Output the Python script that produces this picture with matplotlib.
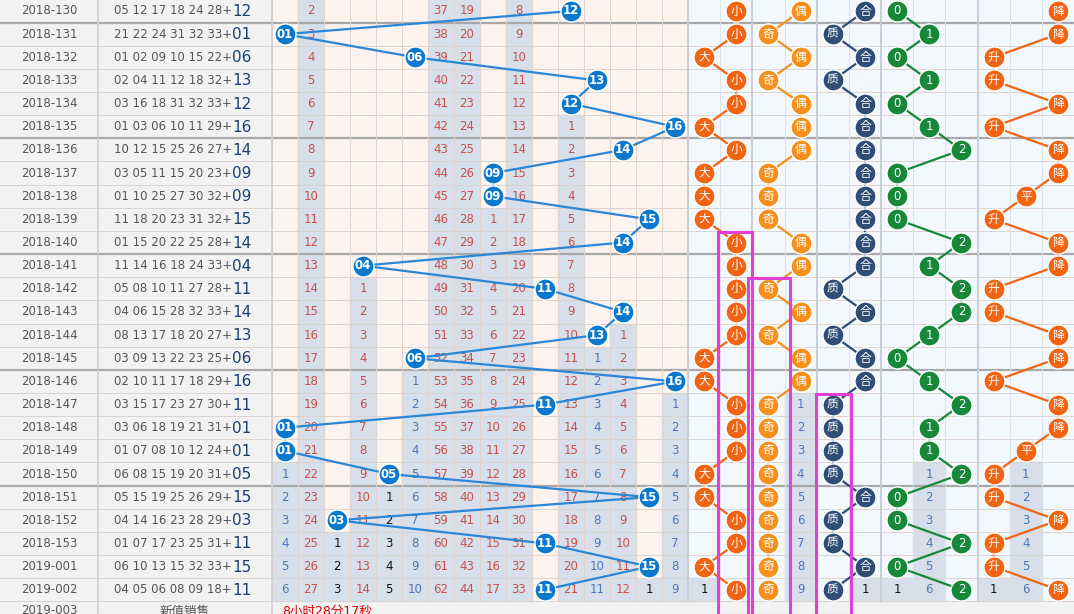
import matplotlib.pyplot as plt
from matplotlib.patches import Rectangle

plt.rcParams['font.family'] = ['DejaVu Sans', 'Noto Sans CJK SC', 'Noto Sans CJK JP',
                               'Noto Sans CJK TC', 'Noto Sans CJK KR']

periods = ['2018-130', '2018-131', '2018-132', '2018-133', '2018-134', '2018-135', '2018-136',
           '2018-137', '2018-138', '2018-139', '2018-140', '2018-141', '2018-142', '2018-143',
           '2018-144', '2018-145', '2018-146', '2018-147', '2018-148', '2018-149', '2018-150',
           '2018-151', '2018-152', '2018-153', '2019-001', '2019-002']
reds = ['05 12 17 18 24 28', '21 22 24 31 32 33', '01 02 09 10 15 22', '02 04 11 12 18 32',
        '03 16 18 31 32 33', '01 03 06 10 11 29', '10 12 15 25 26 27', '03 05 11 15 20 23',
        '01 10 25 27 30 32', '11 18 20 23 31 32', '01 15 20 22 25 28', '11 14 16 18 24 33',
        '05 08 10 11 27 28', '04 06 15 28 32 33', '08 13 17 18 20 27', '03 09 13 22 23 25',
        '02 10 11 17 18 29', '03 15 17 23 27 30', '03 06 18 19 21 31', '01 07 08 10 12 24',
        '06 08 15 19 20 31', '05 15 19 25 26 29', '04 14 16 23 28 29', '01 07 17 23 25 31',
        '06 10 13 15 32 33', '04 05 06 08 09 18']
blues = [12, 1, 6, 13, 12, 16, 14, 9, 9, 15, 14, 4, 11, 14, 13, 6, 16, 11, 1, 1, 5, 15, 3, 11, 15, 11]

size_f = ['小', '小', '大', '小', '小', '大', '小', '大', '大', '大', '小', '小', '小', '小', '小', '大',
          '大', '小', '小', '小', '大', '大', '小', '小', '大', '小']
odd_f = ['偶', '奇', '偶', '奇', '偶', '偶', '偶', '奇', '奇', '奇', '偶', '偶', '奇', '偶', '奇', '偶',
         '偶', '奇', '奇', '奇', '奇', '奇', '奇', '奇', '奇', '奇']
prime_f = ['合', '质', '合', '质', '合', '合', '合', '合', '合', '合', '合', '合', '质', '合', '质', '合',
           '合', '质', '质', '质', '质', '合', '质', '质', '合', '质']
mod_f = ['0', '1', '0', '1', '0', '1', '2', '0', '0', '0', '2', '1', '2', '2', '1', '0',
         '1', '2', '1', '1', '2', '0', '0', '2', '0', '2']
trend_f = ['降', '降', '升', '升', '降', '升', '降', '降', '平', '升', '降', '降', '升', '升', '降', '降',
           '升', '降', '降', '平', '升', '升', '降', '升', '升', '降']

# omission before the first visible row for numbers never hit in the window
prior_miss = {2: 2, 7: 37, 8: 19, 10: 8}
miss_color = {1: '#4a78b8', 2: '#c9504a', 3: '#111111', 4: '#c9504a', 5: '#111111', 6: '#4a78b8',
              7: '#c9504a', 8: '#c9504a', 9: '#c9504a', 10: '#c9504a', 11: '#c9504a', 12: '#c9504a',
              13: '#4a78b8', 14: '#c9504a', 15: '#111111', 16: '#4a78b8'}

ROW0, RH = 11.0, 23.15
BX0, BW = 272.0, 26.0
RX0, RW = 688.0, 32.17

fig = plt.figure(figsize=(10.74, 6.14), dpi=100)
ax = fig.add_axes([0, 0, 1, 1])
ax.set_xlim(0, 1074)
ax.set_ylim(614, 0)
ax.axis('off')

def yc(i):
    return ROW0 + i * RH

n = len(periods)

# backgrounds
ax.add_patch(Rectangle((0, -20), BX0, 660, color='#f2f2f2', zorder=0))
ax.add_patch(Rectangle((BX0, -20), RX0 - BX0, 660, color='#fdf3ee', zorder=0))
ax.add_patch(Rectangle((RX0, -20), 1074 - RX0, 660, color='#f2f8fc', zorder=0))
ax.add_patch(Rectangle((0, yc(n) - RH / 2), 1074, 40, color='#f2f2f2', zorder=0.5))

def draw_miss(hits, x_of, colors, first_miss):
    # shaded omission cells after the last hit
    for c in colors:
        rows_hit = [i for i in range(n) if hits[i] == c]
        if rows_hit:
            start, cnt = rows_hit[-1] + 1, 1
        else:
            start, cnt = 0, first_miss.get(c, 1)
        for i in range(start, n):
            x = x_of(c)
            ax.add_patch(Rectangle((x - x_of.w / 2, yc(i) - RH / 2), x_of.w, RH,
                                   color='#d7e0ea', zorder=1))
            ax.text(x, yc(i), str(cnt + i - start), ha='center', va='center',
                    fontsize=8.5, color=colors[c], zorder=4)

class XB:
    w = BW
    def __call__(self, c):
        return BX0 + (c - 0.5) * BW

xb = XB()
draw_miss(blues, xb, miss_color, prior_miss)

right_groups = [(['大', '小'], size_f, '#f06414'), (['奇', '偶'], odd_f, '#f5901e'),
                (['质', '合'], prime_f, '#2f4d75'), (['0', '1', '2'], mod_f, '#17883a'),
                (['升', '平', '降'], trend_f, '#f06414')]
right_miss_col = {'大': '#111111', '合': '#111111', '0': '#111111', '升': '#111111'}

class XR:
    w = RW
    def __init__(self, labels, off):
        self.labels, self.off = labels, off
    def __call__(self, c):
        return RX0 + (self.off + self.labels.index(c) + 0.5) * RW

off = 0
group_x = []
for labels, vals, col in right_groups:
    xr = XR(labels, off)
    group_x.append(xr)
    cols = {lab: right_miss_col.get(lab, '#4a78b8') for lab in labels}
    draw_miss(vals, xr, cols, {})
    off += len(labels)

# grid lines
for i in range(n + 1):
    y = yc(i) - RH / 2
    thick = i in (1, 6, 11, 16, 21)
    ax.plot([0, 1074], [y, y], color='#a8a8a8' if thick else '#dcd3cf',
            lw=1.6 if thick else 0.7, zorder=2)
for c in range(17):
    x = BX0 + c * BW
    ax.plot([x, x], [-5, yc(n) - RH / 2], color='#e3d3cc', lw=0.7, zorder=2)
for c in range(13):
    x = RX0 + c * RW
    thick = c in (0, 2, 4, 6, 9)
    ax.plot([x, x], [-5, yc(n) - RH / 2], color='#c6ced8' if thick else '#dde3ea',
            lw=1.4 if thick else 0.7, zorder=2)
for x in (98, BX0):
    ax.plot([x, x], [-5, 620], color='#d0d0d0', lw=1.2, zorder=2)

# left text
for i in range(n):
    ax.text(49, yc(i), periods[i], ha='center', va='center', fontsize=8.5, color='#555555', zorder=3)
    ax.text(232, yc(i), reds[i] + '+', ha='right', va='center', fontsize=8.5,
            color='#555555', zorder=3)
    ax.text(232, yc(i) + 0.5, f'{blues[i]:02d}', ha='left', va='center', fontsize=11,
            color='#1f3f6e', zorder=3)
ax.text(49, yc(n) - 2, '2019-003', ha='center', va='center', fontsize=8.5, color='#555555')
ax.text(185, yc(n) - 2, '新值销售', ha='center', va='center', fontsize=9, color='#555555')
ax.text(282, yc(n) - 2, '8小时28分17秒', ha='left', va='center', fontsize=9, color='#e00000')

# blue ball trend
bx = [xb(b) for b in blues]
by = [yc(i) for i in range(n)]
ax.plot(bx, by, color='#2a86d6', lw=1.6, zorder=5)
ax.scatter(bx, by, s=230, color='#0a78cc', edgecolors='white', linewidths=1.0, zorder=6)
for x, y, b in zip(bx, by, blues):
    ax.text(x, y, f'{b:02d}', ha='center', va='center', fontsize=8.5, color='white',
            fontweight='bold', zorder=7)

# right side trends
for (labels, vals, col), xr in zip(right_groups, group_x):
    xs = [xr(v) for v in vals]
    ax.plot(xs, by, color=col, lw=1.6, zorder=5)
    ax.scatter(xs, by, s=230, color=col, edgecolors='white', linewidths=1.0, zorder=6)
    for x, y, v in zip(xs, by, vals):
        ax.text(x, y, v, ha='center', va='center', fontsize=8.5, color='white', zorder=7)

# highlight boxes
for x0, x1, r in [(718, 752, 10), (748, 790, 12), (816, 851, 17)]:
    ax.add_patch(Rectangle((x0, yc(r) - RH / 2 + 1), x1 - x0, 614 - yc(r) + RH / 2,
                           fill=False, edgecolor='#e040d8', lw=2.2, zorder=8))

fig.savefig('out.png', dpi=100)
